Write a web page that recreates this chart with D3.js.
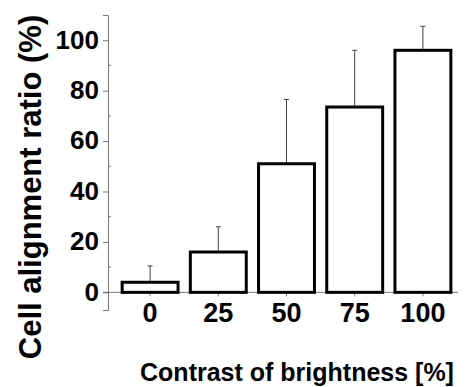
<!DOCTYPE html>
<html>
<head>
<meta charset="utf-8">
<script src="https://cdn.jsdelivr.net/npm/d3@7"></script>
<style>
  body { margin: 0; background: #fff; }
  text { font-family: "Liberation Sans", Arial, sans-serif; font-weight: bold; fill: #000; }
</style>
</head>
<body>
<div id="chart"></div>
<script>
// Data
const categories = ["0", "25", "50", "75", "100"];
const means = [4, 16, 51, 73.5, 96];
const errors = [6.5, 10, 25.5, 22.5, 9.5];
const yTicks = [0, 20, 40, 60, 80, 100];
const yMinorTicks = [10, 30, 50, 70, 90];

const width = 467, height = 387;

const svg = d3.select("#chart")
    .append("svg")
    .attr("width", width)
    .attr("height", height);

// Scales
const x = d3.scaleBand()
    .domain(categories)
    .range([116, 457])
    .paddingInner(0.18)
    .paddingOuter(0.09);

const y = d3.scaleLinear()
    .domain([-7, 110])
    .range([310, 15]);

const axisColor = "#777";

// Y axis
const yAxis = svg.append("g")
    .attr("transform", "translate(108,0)")
    .call(d3.axisLeft(y).tickValues(yTicks).tickSize(5).tickPadding(4));

yAxis.select(".domain").attr("stroke", axisColor);
yAxis.selectAll(".tick line").attr("stroke", axisColor);
yAxis.selectAll(".tick text").style("font-size", "26px").attr("dy", "0.3em");

// minor ticks on y
svg.append("g")
    .selectAll("line")
    .data(yMinorTicks)
    .join("line")
    .attr("x1", 108).attr("x2", 111)
    .attr("y1", d => y(d)).attr("y2", d => y(d))
    .attr("stroke", axisColor);

// X axis line at 0
const xAxis = svg.append("g")
    .attr("transform", `translate(0,${y(0)})`)
    .call(d3.axisBottom(x).tickSize(4).tickPadding(6).tickSizeOuter(0));

xAxis.select(".domain")
    .attr("d", `M103,0H458`)
    .attr("stroke", axisColor);
xAxis.selectAll(".tick line").attr("stroke", axisColor);
xAxis.selectAll(".tick text").style("font-size", "27px");

// Error bars (upper only)
const err = svg.append("g")
    .selectAll("g")
    .data(categories)
    .join("g");

err.append("line")
    .attr("x1", d => x(d) + x.bandwidth() / 2)
    .attr("x2", d => x(d) + x.bandwidth() / 2)
    .attr("y1", (d, i) => y(means[i]))
    .attr("y2", (d, i) => y(means[i] + errors[i]))
    .attr("stroke", "#444")
    .attr("stroke-width", 1);

err.append("line")
    .attr("x1", d => x(d) + x.bandwidth() / 2 - 2.5)
    .attr("x2", d => x(d) + x.bandwidth() / 2 + 2.5)
    .attr("y1", (d, i) => y(means[i] + errors[i]))
    .attr("y2", (d, i) => y(means[i] + errors[i]))
    .attr("stroke", "#444")
    .attr("stroke-width", 1);

// Bars
svg.append("g")
    .selectAll("rect")
    .data(categories)
    .join("rect")
    .attr("x", d => x(d))
    .attr("width", x.bandwidth())
    .attr("y", (d, i) => y(means[i]))
    .attr("height", (d, i) => y(0) - y(means[i]))
    .attr("fill", "#fff")
    .attr("stroke", "#000")
    .attr("stroke-width", 3);

// Axis titles
svg.append("text")
    .attr("transform", "translate(41,187) rotate(-90)")
    .attr("text-anchor", "middle")
    .style("font-size", "31px")
    .text("Cell alignment ratio (%)");

svg.append("text")
    .attr("x", 297)
    .attr("y", 381)
    .attr("text-anchor", "middle")
    .style("font-size", "25px")
    .text("Contrast of brightness [%]");
</script>
</body>
</html>
